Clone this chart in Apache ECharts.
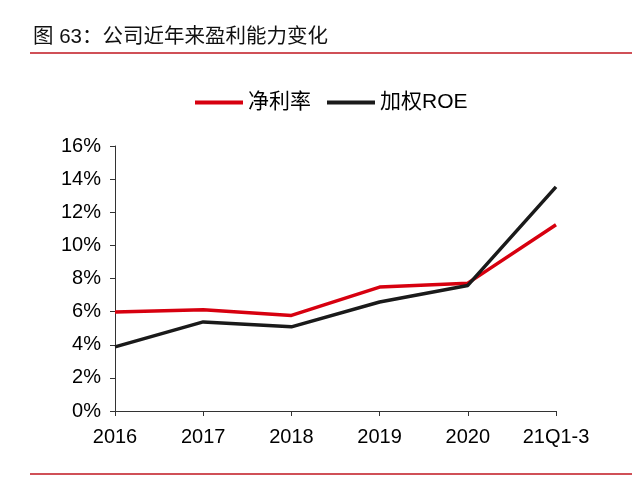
<!DOCTYPE html>
<html>
<head>
<meta charset="utf-8">
<script src="https://cdn.jsdelivr.net/npm/echarts@6/dist/echarts.min.js"></script>
<style>
  html, body { margin: 0; padding: 0; background: #fff; }
  #chart { width: 640px; height: 483px; }
</style>
</head>
<body>
<div id="chart"></div>
<script>
// Profitability over recent years: net margin vs weighted ROE (percent).
const CATEGORIES = ["2016", "2017", "2018", "2019", "2020", "21Q1-3"];
const NET_MARGIN = [5.98, 6.12, 5.77, 7.48, 7.72, 11.25];
const WEIGHTED_ROE = [3.87, 5.38, 5.08, 6.58, 7.58, 13.53];
const SERIES_NAMES = ["净利率", "加权ROE"];

const FONT = '"Liberation Sans", Arial, "Noto Sans CJK SC", sans-serif';
const RED = "#d7000f";
const BLACK = "#1a1a1a";

const chart = echarts.init(document.getElementById("chart"), null, { renderer: "canvas" });

chart.setOption({
  backgroundColor: "#fff",
  animation: false,
  textStyle: { fontFamily: FONT, color: "#000" },
  graphic: [
    {
      type: "text",
      left: 33,
      top: 27,
      style: {
        text: "图 63：公司近年来盈利能力变化",
        fontSize: 20.5,
        fontFamily: FONT,
        fill: "#111",
      },
    },
    {
      type: "line",
      shape: { x1: 30, y1: 53, x2: 632, y2: 53 },
      style: { stroke: "#c0161f", lineWidth: 1.5 },
    },
    {
      type: "line",
      shape: { x1: 30, y1: 474, x2: 632, y2: 474 },
      style: { stroke: "#c0161f", lineWidth: 1.5 },
    },
  ],
  legend: {
    left: 190,
    top: 87,
    icon: "rect",
    itemWidth: 48,
    itemHeight: 4,
    itemGap: 16,
    textStyle: { fontSize: 21, fontFamily: FONT, color: "#000" },
    data: SERIES_NAMES,
  },
  grid: { left: 115, right: 84, top: 146, bottom: 72 },
  xAxis: {
    type: "category",
    boundaryGap: false,
    data: CATEGORIES,
    axisLine: { lineStyle: { color: "#333", width: 1 } },
    axisTick: { show: true, length: 5, inside: false, lineStyle: { color: "#333" } },
    axisLabel: { fontSize: 20, color: "#000", margin: 16, fontFamily: FONT },
    splitLine: { show: false },
  },
  yAxis: {
    type: "value",
    min: 0,
    max: 16,
    interval: 2,
    axisLine: { show: true, lineStyle: { color: "#333", width: 1 } },
    axisTick: { show: true, length: 5, lineStyle: { color: "#333" } },
    axisLabel: { fontSize: 20, color: "#000", margin: 14, fontFamily: FONT, formatter: "{value}%" },
    splitLine: { show: false },
  },
  series: [
    {
      name: SERIES_NAMES[0],
      type: "line",
      data: NET_MARGIN,
      symbol: "none",
      lineStyle: { color: RED, width: 3.5 },
      itemStyle: { color: RED },
      z: 2,
    },
    {
      name: SERIES_NAMES[1],
      type: "line",
      data: WEIGHTED_ROE,
      symbol: "none",
      lineStyle: { color: BLACK, width: 3.5 },
      itemStyle: { color: BLACK },
      z: 3,
    },
  ],
});
</script>
</body>
</html>
